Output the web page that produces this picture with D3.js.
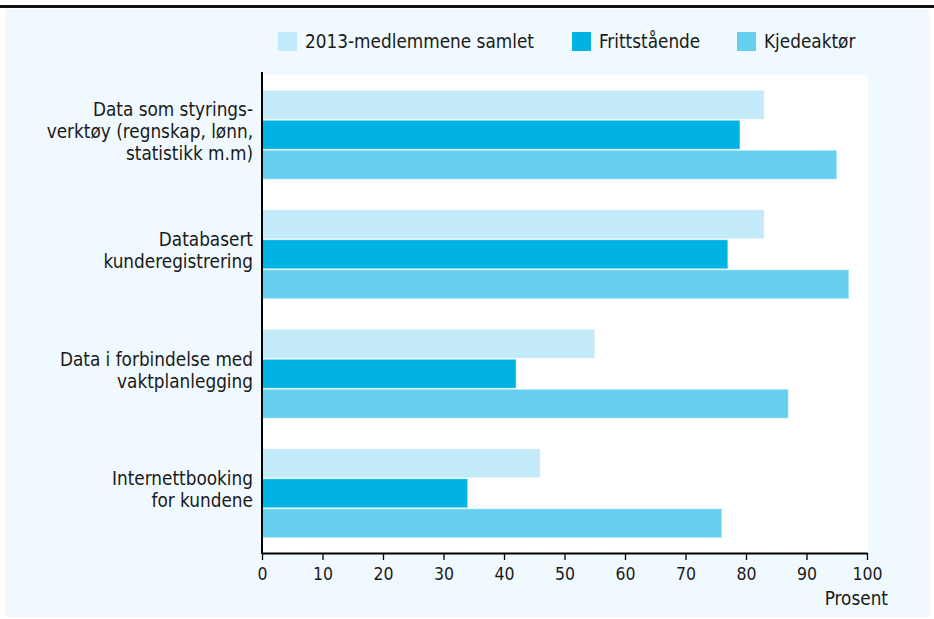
<!DOCTYPE html>
<html><head><meta charset="utf-8">
<script src="https://cdn.jsdelivr.net/npm/d3@7"></script>
<style>
html,body{margin:0;padding:0;background:#fff;}
svg text{font-family:"DejaVu Sans Condensed","Liberation Sans Narrow",sans-serif;fill:#1a1a1a;}
</style></head>
<body>
<svg id="c" width="934" height="619"></svg>
<script>
const categories = [
  ["Data som styrings-","verktøy (regnskap, lønn,","statistikk m.m)"],
  ["Databasert","kunderegistrering"],
  ["Data i forbindelse med","vaktplanlegging"],
  ["Internettbooking","for kundene"]
];
const seriesNames = ["2013-medlemmene samlet","Frittstående","Kjedeaktør"];
const seriesColors = ["#c2eaf8","#00b3e3","#66d0ee"];
const samlet = [83, 83, 55, 46];
const frittstaende = [79, 77, 42, 34];
const kjedeaktor = [95, 97, 87, 76];
const xTicks = [0,10,20,30,40,50,60,70,80,90,100];
const xLabel = "Prosent";

const series = [samlet, frittstaende, kjedeaktor];
const svg = d3.select("#c");
const FS = 18.8;

// frame
svg.append("rect").attr("x",5).attr("y",9).attr("width",925).attr("height",608).attr("fill","#f0f9fd");
svg.append("rect").attr("x",0).attr("y",5).attr("width",934).attr("height",3).attr("fill","#111");

const x = d3.scaleLinear().domain([0,100]).range([262,867]);
const catIdx = categories.map((d,i)=>i);
const y = d3.scaleBand().domain(catIdx).range([75,553]).paddingInner(0.247).paddingOuter(0.1235);
const ys = d3.scaleBand().domain([0,1,2]).range([0,y.bandwidth()]);

svg.append("rect").attr("x",262).attr("y",75).attr("width",606).attr("height",478).attr("fill","#fff");

const g = svg.append("g");
series.forEach((vals,s)=>{
  g.selectAll(null).data(vals).enter().append("rect")
    .attr("x",x(0))
    .attr("y",(d,i)=>y(i)+ys(s)+0.5)
    .attr("width",d=>x(d)-x(0))
    .attr("height",ys.bandwidth()-1)
    .attr("fill",seriesColors[s])
    .attr("stroke","rgba(255,255,255,0.45)").attr("stroke-width",1);
});

// y axis line
svg.append("line").attr("x1",262).attr("x2",262).attr("y1",72).attr("y2",554).attr("stroke","#000").attr("stroke-width",2);

// x axis
const xa = svg.append("g").attr("transform","translate(0,553)")
  .call(d3.axisBottom(x).tickValues(xTicks).tickSize(7).tickPadding(8).tickSizeOuter(0));
xa.select(".domain").attr("stroke","#000").attr("stroke-width",2);
xa.selectAll(".tick line").attr("stroke","#000").attr("stroke-width",1.3);
xa.selectAll(".tick text").attr("font-size",17.5).attr("fill","#1a1a1a")
  .attr("font-family","DejaVu Sans Condensed, sans-serif");
svg.append("text").attr("x",888).attr("y",605).attr("text-anchor","end").attr("font-size",FS).text(xLabel);

// category labels
categories.forEach((lines,i)=>{
  const cy = y(i)+y.bandwidth()/2 - 3.5;
  const lh = 22;
  const t = svg.append("text").attr("text-anchor","end").attr("font-size",FS);
  lines.forEach((ln,k)=>{
    t.append("tspan").attr("x",253)
      .attr("y",cy + (k-(lines.length-1)/2)*lh + 6.5)
      .text(ln);
  });
});

// legend
const legX = [278,572,737];
seriesNames.forEach((n,s)=>{
  svg.append("rect").attr("x",legX[s]).attr("y",32).attr("width",19).attr("height",19).attr("fill",seriesColors[s]);
  svg.append("text").attr("x",legX[s]+27).attr("y",48).attr("font-size",FS).text(n);
});
</script>
</body></html>
